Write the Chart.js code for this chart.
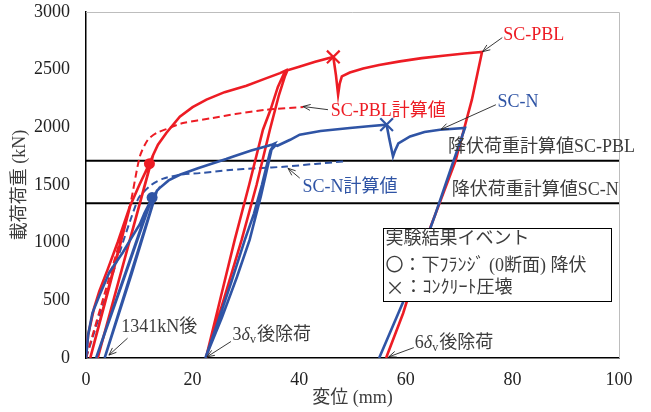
<!DOCTYPE html>
<html>
<head>
<meta charset="utf-8">
<script src="https://cdn.jsdelivr.net/npm/chart.js@4.4.1/dist/chart.umd.min.js"></script>
<style>
  html, body { margin: 0; padding: 0; background: #fff; }
  #wrap { width: 651px; height: 412px; }
</style>
</head>
<body>
<div id="wrap"><canvas id="c" width="651" height="412"></canvas></div>
<script>
// Load–displacement curves of two specimens (displacement in mm, load in kN)
const pblDisp = [0, 0.4, 1.5, 2.5, 4.0, 6.0, 8.2, 0.8, 4.5, 8.3, 10.0, 11.9, 12.5, 2.2, 7.5, 12.6,
  13.5, 15.1, 17.6, 20.0, 22.6, 26.0, 30.1, 33.5, 36.4, 37.4,
  36.0, 34.6, 33.2, 30.6, 27.9, 25.2, 22.5,
  25.8, 29.2, 32.0, 34.5, 36.2, 37.3, 37.8,
  40.0, 43.0, 46.4, 46.9, 47.3, 47.6, 48.0, 49.5, 52.0, 55.0,
  58.9, 63.0, 67.0, 71.0, 74.3, 72.4, 69.3, 64.2, 59.5, 56.3];
const pblLoad = [0, 200, 430, 580, 760, 1010, 1311, 0, 640, 1320, 1500, 1685, 1750, 0, 900, 1760,
  1850, 1953, 2092, 2175, 2240, 2305, 2361, 2420, 2470, 2492,
  2350, 2150, 1979, 1500, 1024, 512, 0,
  500, 1024, 1500, 1979, 2280, 2440, 2495,
  2525, 2568, 2610, 2450, 2283, 2380, 2442, 2475, 2510, 2540,
  2572, 2600, 2620, 2640, 2654, 2240, 1704, 1082, 388, 0];

const nDisp = [0, 0.4, 1.2, 2.5, 4.4, 6.9, 8.5, 10.1, 11.0, 11.9, 1.9, 7.2, 12.4, 13.2, 3.5, 8.5, 13.3,
  13.8, 15.5, 17.6, 21.0, 24.0, 26.3, 27.5, 31.0, 35.0, 35.4,
  34.6, 33.0, 31.5, 29.8, 27.2, 24.8, 22.4,
  25.5, 28.3, 30.7, 32.8, 34.8, 35.6, 35.9,
  38.3, 40.1, 44.0, 49.5, 53.0, 56.4, 56.9, 57.6, 58.0, 58.6, 60.8,
  63.5, 66.4, 71.1, 68.6, 65.5, 60.2, 55.0];
const nLoad = [0, 200, 390, 540, 745, 915, 1040, 1160, 1260, 1341, 0, 700, 1391, 1440, 0, 720, 1450,
  1473, 1540, 1589, 1645, 1690, 1725, 1745, 1800, 1852, 1860,
  1800, 1500, 1250, 1024, 650, 320, 0,
  350, 700, 1024, 1400, 1806, 1845, 1840,
  1892, 1936, 1968, 1994, 2010, 2023, 1900, 1747, 1800, 1860, 1921,
  1960, 1979, 1994, 1660, 1241, 561, 0];

// Calculated curves
const pblCalcDisp = [0, 4.0, 8.2, 10.1, 11.6, 13.2, 15.1, 18.0, 23.8, 28.0, 33.9, 40.8];
const pblCalcLoad = [0, 640, 1313, 1747, 1892, 1950, 1985, 2035, 2081, 2115, 2153, 2176];
const nCalcDisp = [0, 9.7, 12.3, 14.5, 17.6, 21.3, 27.0, 32.0, 37.6, 43.0, 48.3];
const nCalcLoad = [0, 1372, 1502, 1555, 1589, 1603, 1630, 1645, 1660, 1683, 1704];

// Calculated yield loads
const yieldLoadPbl = 1710;
const yieldLoadN = 1341;

// Test events: flange yield (circle) and concrete crushing (cross)
const yieldPtDisp = [11.9, 12.4];
const yieldPtLoad = [1685, 1391];
const crushPtDisp = [46.4, 56.4];
const crushPtLoad = [2610, 2023];

// Axis ranges and ticks
const xTicks = [0, 20, 40, 60, 80, 100];
const yTicks = [0, 500, 1000, 1500, 2000, 2500, 3000];

const RED = '#ED1C24';
const BLUE = '#2F54A5';
const GREY = '#3C3C3C';
const FONT = "'Liberation Serif', 'Noto Sans CJK JP', serif";
const CJK = "'Noto Sans CJK JP', sans-serif";

const pts = (xs, ys) => xs.map((v, i) => ({ x: v, y: ys[i] }));

function arrow(ctx, x1, y1, x2, y2) {
  ctx.save();
  ctx.strokeStyle = '#222';
  ctx.lineWidth = 0.9;
  ctx.beginPath();
  ctx.moveTo(x1, y1);
  ctx.lineTo(x2, y2);
  const a = Math.atan2(y2 - y1, x2 - x1);
  const h = 8, w = 0.38;
  ctx.moveTo(x2 - h * Math.cos(a - w), y2 - h * Math.sin(a - w));
  ctx.lineTo(x2, y2);
  ctx.lineTo(x2 - h * Math.cos(a + w), y2 - h * Math.sin(a + w));
  ctx.stroke();
  ctx.restore();
}

// Text with italic delta and subscript v, e.g. "3δv後除荷"
function deltaLabel(ctx, x, y, lead, tail) {
  ctx.save();
  ctx.fillStyle = GREY;
  ctx.textBaseline = 'middle';
  ctx.textAlign = 'left';
  ctx.font = '18px ' + FONT;
  ctx.fillText(lead, x, y);
  x += ctx.measureText(lead).width;
  ctx.font = 'italic 18px ' + FONT;
  ctx.fillText('δ', x, y);
  x += ctx.measureText('δ').width;
  ctx.font = '12px ' + FONT;
  ctx.fillText('v', x, y + 5);
  x += ctx.measureText('v').width + 1;
  ctx.font = '18px ' + FONT;
  ctx.fillText(tail, x, y);
  ctx.restore();
}

// Draws consecutive pieces of text, each with its own font
function runs(ctx, x, y, parts) {
  for (const [s, f] of parts) {
    ctx.font = f;
    ctx.fillText(s, x, y);
    x += ctx.measureText(s).width;
  }
}

const frame = {
  id: 'frame',
  beforeDatasetsDraw(chart) {
    const { ctx, chartArea: a } = chart;
    ctx.save();
    ctx.strokeStyle = '#BDBDBD';
    ctx.lineWidth = 1;
    ctx.beginPath();
    ctx.moveTo(a.left, a.top + 0.5);
    ctx.lineTo(a.right + 0.5, a.top + 0.5);
    ctx.lineTo(a.right + 0.5, a.bottom);
    ctx.stroke();
    ctx.restore();
  }
};

const notes = {
  id: 'notes',
  afterDatasetsDraw(chart) {
    const { ctx, scales: { x, y } } = chart;
    const X = v => x.getPixelForValue(v);
    const Y = v => y.getPixelForValue(v);
    const text = (s, dx, dy, color) => {
      ctx.fillStyle = color;
      ctx.fillText(s, X(dx), Y(dy));
    };
    ctx.save();
    ctx.font = '18px ' + FONT;
    ctx.textBaseline = 'middle';
    ctx.textAlign = 'left';

    text('SC-PBL', 78.3, 2795, RED);
    arrow(ctx, X(78.1), Y(2778), X(74.4), Y(2656));
    text('SC-N', 77.2, 2214, BLUE);
    arrow(ctx, X(76.9), Y(2196), X(66.6), Y(1982));
    text('SC-PBL計算値', 45.9, 2140, RED);
    arrow(ctx, X(45.4), Y(2153), X(40.7), Y(2181));
    text('SC-N計算値', 40.6, 1484, BLUE);
    arrow(ctx, X(40.1), Y(1560), X(37.9), Y(1645));
    text('降伏荷重計算値SC-PBL', 67.9, 1823, GREY);
    text('降伏荷重計算値SC-N', 68.6, 1458, GREY);
    text('1341kN後', 6.6, 269, GREY);
    arrow(ctx, X(7.8), Y(172), X(4.3), Y(25));

    deltaLabel(ctx, X(27.5), Y(200), '3', '後除荷');
    arrow(ctx, X(27.2), Y(143), X(22.7), Y(10));
    deltaLabel(ctx, X(61.7), Y(130), '6', '後除荷');
    arrow(ctx, X(61.5), Y(90), X(56.8), Y(10));

    // Event key
    const bx = X(55.8), by = Y(1126), bw = X(98.5) - bx, bh = Y(489) - by;
    ctx.fillStyle = '#fff';
    ctx.fillRect(bx, by, bw, bh);
    ctx.strokeStyle = '#000';
    ctx.lineWidth = 1;
    ctx.strokeRect(Math.round(bx) + 0.5, Math.round(by) + 0.5, Math.round(bw), Math.round(bh));
    ctx.fillStyle = GREY;
    const tx = X(56.2);
    const f18 = '18px ' + FONT;
    ctx.font = f18;
    ctx.fillText('実験結果イベント', tx, Y(1026));
    runs(ctx, tx, Y(799), [['〇：下ﾌﾗﾝｼﾞ', f18], [' (', f18], ['0断面', f18], [') ', f18], ['降伏', f18]]);
    runs(ctx, tx, Y(605), [['×', '19px ' + CJK], ['：ｺﾝｸﾘｰﾄ圧壊', f18]]);
    ctx.restore();
  }
};

const noPad = s => { s.paddingTop = 0; s.paddingBottom = 0; s.paddingLeft = 0; s.paddingRight = 0; };

new Chart(document.getElementById('c'), {
  type: 'scatter',
  data: {
    datasets: [
      { data: pts(yieldPtDisp.slice(0, 1), yieldPtLoad.slice(0, 1)), pointStyle: 'circle', pointRadius: 5.5,
        backgroundColor: RED, borderColor: RED, borderWidth: 0, order: 0 },
      { data: pts(yieldPtDisp.slice(1), yieldPtLoad.slice(1)), pointStyle: 'circle', pointRadius: 5.5,
        backgroundColor: BLUE, borderColor: BLUE, borderWidth: 0, order: 0 },
      { data: pts(crushPtDisp.slice(0, 1), crushPtLoad.slice(0, 1)), pointStyle: 'crossRot', pointRadius: 9,
        borderColor: RED, borderWidth: 2.2, order: 0 },
      { data: pts(crushPtDisp.slice(1), crushPtLoad.slice(1)), pointStyle: 'crossRot', pointRadius: 9,
        borderColor: BLUE, borderWidth: 2.2, order: 0 },
      { data: pts(pblDisp, pblLoad), showLine: true, borderColor: RED, borderWidth: 2.6,
        pointRadius: 0, tension: 0, order: 2 },
      { data: pts(nDisp, nLoad), showLine: true, borderColor: BLUE, borderWidth: 2.6,
        pointRadius: 0, tension: 0, order: 1 },
      { data: pts(pblCalcDisp, pblCalcLoad), showLine: true, borderColor: RED, borderWidth: 2,
        borderDash: [7, 4], pointRadius: 0, tension: 0.25, order: 3 },
      { data: pts(nCalcDisp, nCalcLoad), showLine: true, borderColor: BLUE, borderWidth: 2,
        borderDash: [7, 4], pointRadius: 0, tension: 0.25, order: 3 },
      { data: [{ x: 0, y: yieldLoadPbl }, { x: 100, y: yieldLoadPbl }], showLine: true,
        borderColor: '#000', borderWidth: 2, pointRadius: 0, order: 4 },
      { data: [{ x: 0, y: yieldLoadN }, { x: 100, y: yieldLoadN }], showLine: true,
        borderColor: '#000', borderWidth: 2, pointRadius: 0, order: 4 }
    ]
  },
  options: {
    responsive: false,
    animation: false,
    devicePixelRatio: 1,
    layout: { padding: { left: 0, right: 32, top: 12, bottom: 0 } },
    plugins: { legend: { display: false }, tooltip: { enabled: false } },
    scales: {
      x: {
        type: 'linear', min: 0, max: 100,
        afterBuildTicks: s => { s.ticks = xTicks.map(v => ({ value: v })); },
        afterFit: s => { s.height = 54; noPad(s); },
        grid: { display: false, drawTicks: false },
        border: { display: true, color: '#000', width: 1.5 },
        ticks: { padding: 11, color: '#222', font: { family: FONT, size: 18 }, callback: v => String(v) },
        title: { display: true, text: '変位 (mm)', color: GREY, font: { family: FONT, size: 18 },
                 padding: { top: 0, bottom: 3 } }
      },
      y: {
        type: 'linear', min: 0, max: 3000,
        afterBuildTicks: s => { s.ticks = yTicks.map(v => ({ value: v })); },
        afterFit: s => { s.width = 86; noPad(s); },
        grid: { display: false, drawTicks: false },
        border: { display: true, color: '#000', width: 1.5 },
        ticks: { padding: 16, color: '#222', font: { family: FONT, size: 18 }, callback: v => String(v) },
        title: { display: true, text: '載荷荷重 (kN)', color: GREY, font: { family: FONT, size: 18 },
                 padding: { top: 9, bottom: 0 } }
      }
    }
  },
  plugins: [frame, notes]
});
</script>
</body>
</html>
